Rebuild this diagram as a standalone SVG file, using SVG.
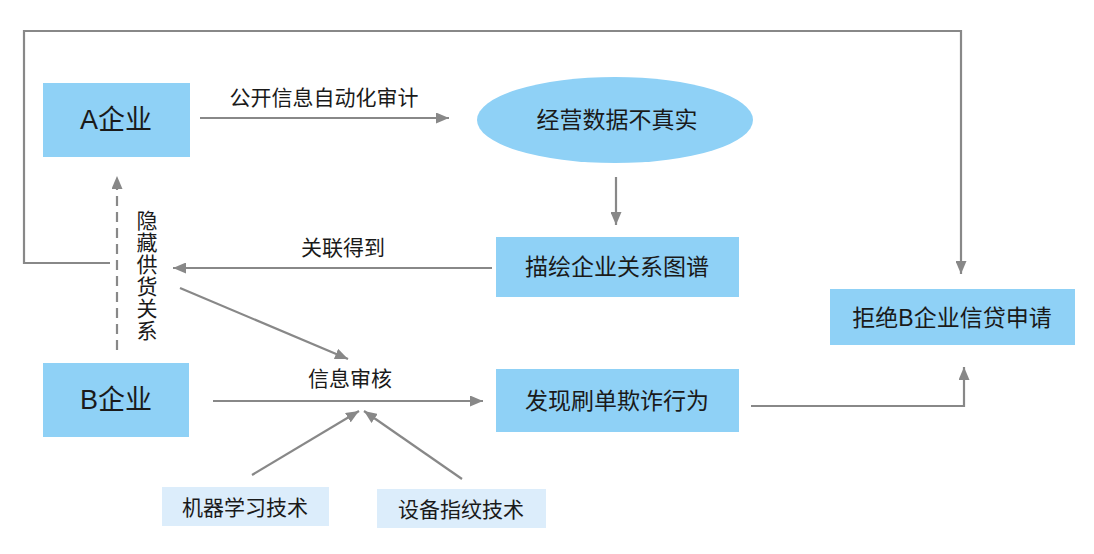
<svg xmlns="http://www.w3.org/2000/svg" width="1094" height="554" viewBox="0 0 1094 554">
<defs>
<marker id="ah" markerUnits="userSpaceOnUse" markerWidth="13" markerHeight="11" refX="13" refY="5.5" orient="auto">
<path d="M0,0 L13,5.5 L0,11 z" fill="#888"/>
</marker>
<style>
.box{fill:#8fd1f6;}
.lbox{fill:#dcedfb;}
.t{font-family:"Liberation Sans","Noto Sans CJK SC",sans-serif;fill:#1a1a1a;text-anchor:middle;dominant-baseline:central;}
.big{font-size:23px;}
.xl{font-size:27px;}
.mid{font-size:21px;}
.ln{fill:none;stroke:#888;stroke-width:2.2;}
</style>
</defs>
<rect width="1094" height="554" fill="#fff"/>
<g id="connectors">
<polyline class="ln" points="110,263 24,263 24,31 961,31 961,274" marker-end="url(#ah)"/>
<line class="ln" x1="200" y1="118" x2="449" y2="118" marker-end="url(#ah)"/>
<line class="ln" x1="616" y1="177" x2="616" y2="225" marker-end="url(#ah)"/>
<line class="ln" x1="492" y1="268" x2="173" y2="268" marker-end="url(#ah)"/>
<line class="ln" x1="117" y1="350" x2="117" y2="176" stroke-dasharray="10,6" marker-end="url(#ah)"/>
<line class="ln" x1="180" y1="288" x2="348" y2="359" marker-end="url(#ah)"/>
<line class="ln" x1="213" y1="401" x2="483" y2="401" marker-end="url(#ah)"/>
<polyline class="ln" points="751,406 964,406 964,367" marker-end="url(#ah)"/>
<line class="ln" x1="252" y1="475" x2="359" y2="411" marker-end="url(#ah)"/>
<line class="ln" x1="462" y1="479" x2="364" y2="411" marker-end="url(#ah)"/>
<text class="t mid" x="324" y="97">公开信息自动化审计</text>
<text class="t mid" x="343" y="247">关联得到</text>
<text class="t mid" x="350" y="378">信息审核</text>
<g>
<text class="t mid" x="147" y="220">隐</text>
<text class="t mid" x="147" y="242">藏</text>
<text class="t mid" x="147" y="264">供</text>
<text class="t mid" x="147" y="286">货</text>
<text class="t mid" x="147" y="308">关</text>
<text class="t mid" x="147" y="330">系</text>
</g>
</g>
<g id="nodeA">
<rect class="box" x="43" y="83" width="147" height="74"/>
<text class="t xl" x="116" y="120">A企业</text>
</g>
<g id="nodeData">
<ellipse class="box" cx="615" cy="120" rx="138" ry="43"/>
<text class="t big" x="617" y="120">经营数据不真实</text>
</g>
<g id="nodeGraph">
<rect class="box" x="496" y="237" width="243" height="60"/>
<text class="t big" x="617" y="267">描绘企业关系图谱</text>
</g>
<g id="nodeB">
<rect class="box" x="43" y="363" width="146" height="74"/>
<text class="t xl" x="116" y="400">B企业</text>
</g>
<g id="nodeFraud">
<rect class="box" x="496" y="369" width="243" height="63"/>
<text class="t big" x="617" y="401">发现刷单欺诈行为</text>
</g>
<g id="nodeReject">
<rect class="box" x="830" y="289" width="245" height="56"/>
<text class="t big" x="952" y="318">拒绝B企业信贷申请</text>
</g>
<g id="nodeML">
<rect class="lbox" x="162" y="487" width="167" height="39"/>
<text class="t mid" x="245" y="507">机器学习技术</text>
</g>
<g id="nodeFP">
<rect class="lbox" x="377" y="489" width="169" height="39"/>
<text class="t mid" x="461" y="509">设备指纹技术</text>
</g>
</svg>
